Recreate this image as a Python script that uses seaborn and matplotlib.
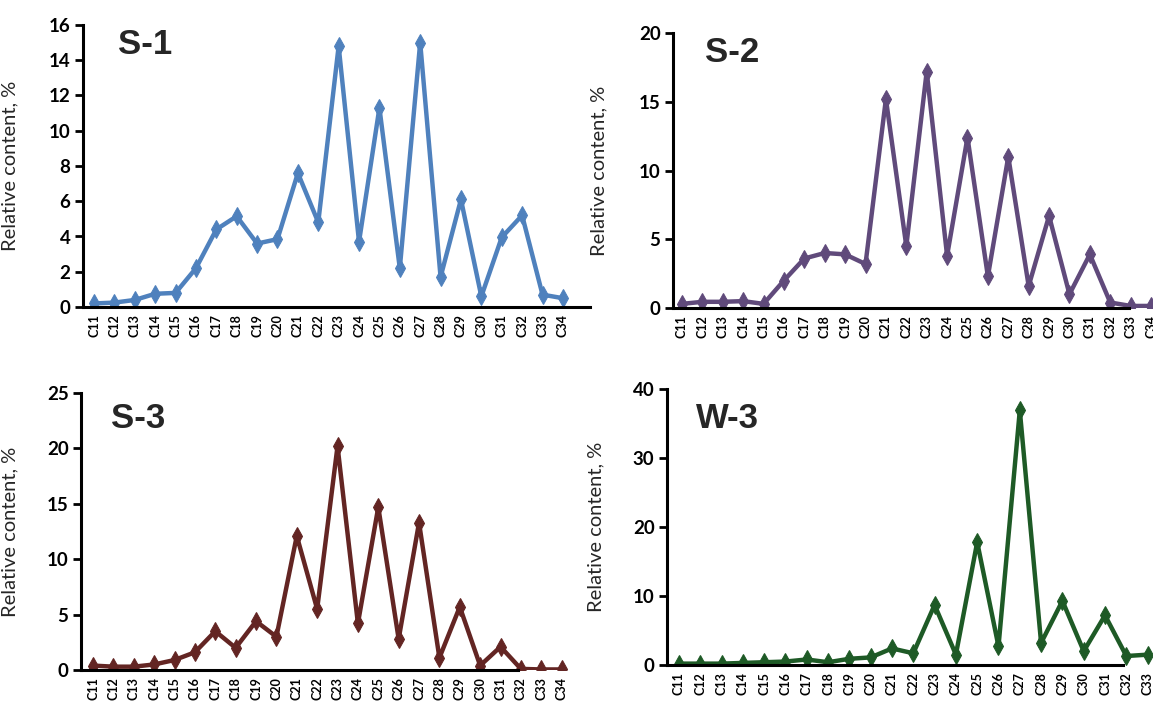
import matplotlib
matplotlib.use('Agg')
import pandas as pd
import seaborn as sns
from matplotlib import pyplot as plt

# chain lengths
carbons_34 = [f'C{n}' for n in range(11, 35)]
carbons_33 = [f'C{n}' for n in range(11, 34)]

s1_values = [0.2, 0.25, 0.4, 0.75, 0.8, 2.2, 4.4, 5.15, 3.6, 3.85, 7.6, 4.8,
             14.8, 3.7, 11.3, 2.2, 15.0, 1.7, 6.1, 0.6, 3.95, 5.2, 0.7, 0.5]
s2_values = [0.3, 0.45, 0.45, 0.5, 0.3, 2.0, 3.6, 4.0, 3.9, 3.2, 15.2, 4.5,
             17.2, 3.8, 12.4, 2.3, 11.0, 1.6, 6.7, 1.0, 3.9, 0.4, 0.15, 0.15]
s3_values = [0.4, 0.3, 0.3, 0.5, 0.9, 1.6, 3.5, 2.0, 4.4, 3.0, 12.1, 5.5,
             20.2, 4.2, 14.7, 2.8, 13.3, 1.1, 5.7, 0.4, 2.1, 0.1, 0.05, 0.05]
w3_values = [0.2, 0.2, 0.2, 0.3, 0.4, 0.5, 0.8, 0.4, 0.9, 1.1, 2.4, 1.7,
             8.7, 1.5, 17.8, 2.7, 36.9, 3.2, 9.3, 2.0, 7.2, 1.3, 1.5]

samples = ['S-1', 'S-2', 'S-3', 'W-3']
colors = ['#4F81BD', '#604A7B', '#632523', '#1E5A26']
y_max = [16, 20, 25, 40]
y_step = [2, 5, 5, 10]

W, H = 1153, 704
# pixel boxes (left, top, right, bottom), xlim, bottom spine end, ylabel x, title pos
layout = [
    dict(box=(83, 25, 590, 307), xlim=(-0.54, 24.33), spine_end=24.33, ylab=18, title=(118, 45)),
    dict(box=(673, 33, 1170, 308), xlim=(-0.44, 23.93), spine_end=21.9, ylab=607, title=(705, 52)),
    dict(box=(81, 393, 580, 670), xlim=(-0.59, 23.9), spine_end=20.85, ylab=18, title=(111, 418)),
    dict(box=(667, 389, 1170, 665), xlim=(-0.56, 23.05), spine_end=20.85, ylab=604, title=(696, 418)),
]

sns.set_style('ticks')
plt.rcParams['font.family'] = ['Lato', 'DejaVu Sans']

fig = plt.figure(figsize=(W / 100, H / 100), dpi=100)
fig.patch.set_facecolor('white')

series = [(carbons_34, s1_values), (carbons_34, s2_values),
          (carbons_34, s3_values), (carbons_33, w3_values)]

for i, (name, (cats, vals)) in enumerate(zip(samples, series)):
    lay = layout[i]
    l, t, r, b = lay['box']
    ax = fig.add_axes([l / W, 1 - b / H, (r - l) / W, (b - t) / H])
    df = pd.DataFrame({'Chain': cats, 'Value': vals})
    sns.lineplot(data=df, x='Chain', y='Value', ax=ax, color=colors[i],
                 linewidth=3.2, marker='d', markersize=9,
                 markeredgecolor=colors[i], clip_on=True)
    ax.set_xlim(*lay['xlim'])
    ax.set_ylim(0, y_max[i])
    ax.set_yticks(range(0, y_max[i] + 1, y_step[i]))
    ax.set_xticks(range(len(cats)))
    ax.set_xticklabels(cats, rotation=90, fontsize=9, fontweight='bold')
    for lbl in ax.get_yticklabels():
        lbl.set_fontweight('bold')
        lbl.set_fontsize(13.5)
    ax.tick_params(axis='y', direction='out', length=6, width=2, pad=3, colors='black')
    ax.tick_params(axis='x', length=0, pad=5, colors='black')
    ax.set_xlabel('')
    ax.set_ylabel('Relative content, %', fontsize=14.5)
    ax.yaxis.set_label_coords((lay['ylab'] - l) / (r - l), 0.5)
    sns.despine(ax=ax)
    for side in ['left', 'bottom']:
        ax.spines[side].set_linewidth(2.2)
        ax.spines[side].set_color('black')
    ax.spines['bottom'].set_bounds(lay['xlim'][0], lay['spine_end'])
    ax.set_facecolor('white')
    tx, ty = lay['title']
    fig.text(tx / W, 1 - ty / H, name, fontsize=25, fontweight='bold',
             family='Liberation Sans', va='center', ha='left')

plt.savefig('out.png', dpi=100)
